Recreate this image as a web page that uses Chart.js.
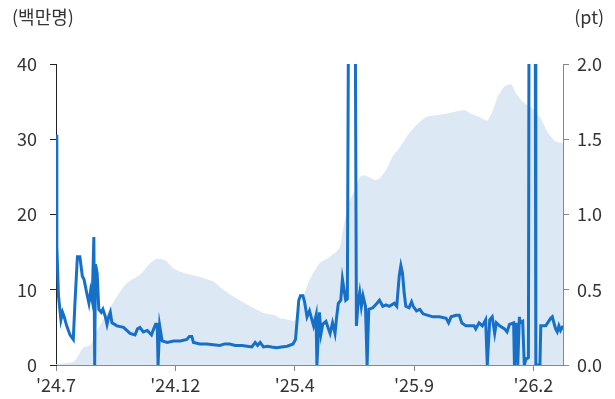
<!DOCTYPE html>
<html>
<head>
<meta charset="utf-8">
<script src="https://cdn.jsdelivr.net/npm/chart.js@4.4.1/dist/chart.umd.min.js"></script>
<style>
  html, body { margin: 0; padding: 0; background: #fff; }
  #wrap { width: 615px; height: 399px; position: relative; }
</style>
</head>
<body>
<div id="wrap"><canvas id="chart"></canvas></div>
<script>
// x values are day offsets from the first observation
const tickDays = [0, 145, 290, 435, 580];
const tickLabels = ["'24.7", "'24.12", "'25.4", "'25.9", "'26.2"];

// shaded series (백만명, left axis)
const areaDays = [0, 21, 25, 33, 42, 50, 62, 74, 86, 102, 114, 122, 133, 142, 151, 175, 191, 207, 223,
  245, 252, 266, 272, 278, 290, 298, 308, 320, 333, 341, 345, 351, 357, 365, 369, 375, 387, 393,
  401, 409, 417, 429, 442, 450, 462, 474, 486, 496, 504, 514, 524, 531, 537, 545, 553, 559, 567,
  579, 589, 597, 607, 616];
const areaValues = [0.1, 0.4, 0.9, 2.3, 2.7, 4.6, 6.9, 9.1, 10.9, 12.0, 13.5, 14.1, 13.9, 12.9, 12.4, 11.7, 11.1, 9.7, 8.6,
  7.3, 6.9, 6.6, 6.2, 6.1, 5.9, 8.2, 11.3, 13.5, 14.4, 15.1, 15.7, 19.3, 21.9, 23.7, 25.0, 25.2, 24.6, 24.8,
  25.9, 27.7, 28.8, 30.8, 32.3, 33.0, 33.2, 33.4, 33.7, 33.9, 33.4, 33.0, 32.5, 33.9, 35.7, 37.0, 37.3, 36.1, 35.0,
  34.1, 32.8, 31.0, 29.7, 29.5];

// line series (pt, right axis)
const lineDays = [0, 1, 3, 6, 8, 10, 13, 17, 21, 23, 26, 29, 32, 34, 38, 40, 42, 44, 46, 47, 48, 50, 52, 55, 57,
  60, 62, 64, 66, 68, 74, 82, 90, 96, 99, 102, 106, 111, 116, 118, 121, 123, 124, 126, 129, 135, 143,
  151, 159, 162, 165, 167, 175, 183, 191, 199, 205, 211, 218, 226, 232, 238, 242, 245, 248, 252, 257, 262, 268, 274, 281, 288, 291, 295,
  297, 300, 302, 305, 308, 310, 313, 316, 317, 320, 322, 324, 328, 331, 333, 336, 339, 341, 343, 346,
  348, 350, 352, 354, 356, 363, 365, 367, 369, 371, 373, 376, 378, 380, 385, 390, 393, 397, 401, 405,
  411, 414, 417, 419, 421, 423, 425, 429, 432, 434, 438, 442, 446, 452, 458, 466, 474, 477, 480, 486,
  490, 493, 498, 502, 508, 510, 514, 518, 522, 524, 527, 530, 533, 535, 539, 545, 548, 551, 556, 557,
  559, 561, 563, 564, 567, 569, 571, 573, 574, 575, 582, 583, 588, 589, 595, 601, 603, 607, 609, 611,
  613, 616];
const lineValues = [1.53, 0.79, 0.46, 0.30, 0.35, 0.32, 0.26, 0.20, 0.17, 0.41, 0.72, 0.72, 0.59, 0.57, 0.46, 0.41, 0.49, 0.43, 0.85, 0, 0.67, 0.61, 0.37, 0.35, 0.37,
  0.32, 0.27, 0.32, 0.35, 0.28, 0.26, 0.25, 0.21, 0.20, 0.24, 0.25, 0.22, 0.23, 0.20, 0.23, 0.27, 0.27, 0, 0.26, 0.16, 0.15, 0.16,
  0.16, 0.17, 0.19, 0.19, 0.15, 0.14, 0.14, 0.135, 0.13, 0.14, 0.14, 0.13, 0.13, 0.125, 0.12, 0.15, 0.13, 0.15, 0.12, 0.125, 0.12, 0.115, 0.12, 0.125, 0.14, 0.17, 0.43,
  0.46, 0.46, 0.42, 0.32, 0.36, 0.32, 0.26, 0.33, 0, 0.35, 0.21, 0.27, 0.29, 0.24, 0.21, 0.28, 0.21, 0.32, 0.41, 0.43,
  0.57, 0.50, 0.43, 0.44, 3.2, 3.2, 0.26, 0.41, 0.48, 0.39, 0.46, 0.39, 0, 0.37, 0.38, 0.41, 0.43, 0.39, 0.40, 0.39,
  0.41, 0.39, 0.59, 0.66, 0.61, 0.48, 0.39, 0.38, 0.42, 0.39, 0.36, 0.37, 0.34, 0.33, 0.32, 0.32, 0.31, 0.28, 0.32, 0.33,
  0.33, 0.28, 0.26, 0.26, 0.26, 0.24, 0.28, 0.26, 0.30, 0, 0.30, 0.32, 0.21, 0.28, 0.26, 0.24, 0.22, 0.27, 0.28, 0,
  0.28, 0, 0.32, 0.28, 0.29, 0, 0.04, 0.045, 0.05, 3.2, 3.2, 0, 0, 0.26, 0.26, 0.31, 0.32, 0.24, 0.22, 0.26,
  0.23, 0.26];

const labelFont = { family: "'Noto Sans CJK KR', 'Noto Sans', sans-serif", size: 18 };
const textColor = '#333';

function toPoints(days, values) {
  return days.map((d, i) => ({ x: d, y: values[i] }));
}

// unit captions above both y axes
const unitLabels = {
  id: 'unitLabels',
  afterDraw(chart) {
    const ctx = chart.ctx;
    ctx.save();
    ctx.font = "18px 'Noto Sans CJK KR', 'Noto Sans', sans-serif";
    ctx.fillStyle = textColor;
    ctx.textBaseline = 'middle';
    ctx.textAlign = 'left';
    ctx.fillText('(백만명)', 12, 17);
    ctx.textAlign = 'right';
    ctx.fillText('(pt)', 604, 17);
    ctx.restore();
  }
};

new Chart(document.getElementById('chart'), {
  type: 'line',
  data: {
    datasets: [
      {
        data: toPoints(lineDays, lineValues),
        yAxisID: 'y1',
        borderColor: '#1670c8',
        borderWidth: 3,
        pointRadius: 0,
        tension: 0,
        fill: false,
        order: 0
      },
      {
        data: toPoints(areaDays, areaValues),
        yAxisID: 'y',
        borderWidth: 0,
        backgroundColor: '#dde8f5',
        pointRadius: 0,
        tension: 0.2,
        fill: 'origin',
        order: 1
      }
    ]
  },
  options: {
    responsive: true,
    maintainAspectRatio: false,
    animation: false,
    layout: { padding: { top: 64, left: 0, right: 0, bottom: 0 } },
    plugins: {
      legend: { display: false },
      tooltip: { enabled: false }
    },
    scales: {
      x: {
        type: 'linear',
        min: 0,
        max: 616,
        afterBuildTicks: scale => { scale.ticks = tickDays.map(v => ({ value: v })); },
        afterFit: scale => { scale.height = 34; },
        ticks: {
          callback: (v, i) => tickLabels[i],
          autoSkip: false,
          maxRotation: 0,
          padding: 3,
          color: textColor,
          font: labelFont
        },
        grid: { drawOnChartArea: false, drawTicks: true, tickLength: 6, color: '#888' },
        border: { color: '#888' }
      },
      y: {
        position: 'left',
        min: 0,
        max: 40,
        afterFit: scale => { scale.width = 56; },
        ticks: { stepSize: 10, padding: 13, color: textColor, font: labelFont },
        grid: { drawOnChartArea: false, drawTicks: true, tickLength: 6, color: '#222' },
        border: { color: '#222' }
      },
      y1: {
        position: 'right',
        min: 0,
        max: 2,
        afterFit: scale => { scale.width = 52; },
        ticks: { stepSize: 0.5, padding: 8, color: textColor, font: labelFont, callback: v => v.toFixed(1) },
        grid: { drawOnChartArea: false, drawTicks: true, tickLength: 6, color: '#888' },
        border: { color: '#888' }
      }
    }
  },
  plugins: [unitLabels]
});
</script>
</body>
</html>
